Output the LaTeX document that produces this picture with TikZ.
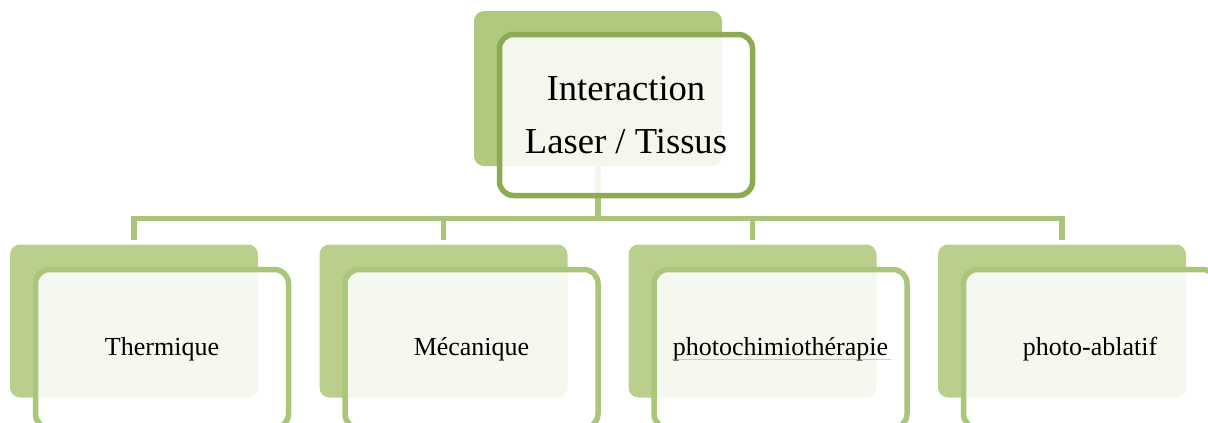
\documentclass[tikz,border=0pt]{standalone}
\usepackage{fontspec}
\setmainfont{Liberation Serif}
\usetikzlibrary{calc}

\definecolor{backgreen}{HTML}{B9CF8B}
\definecolor{topback}{HTML}{B0C97E}
\definecolor{topline}{HTML}{8DAB52}
\definecolor{childline}{HTML}{AAC67B}
\definecolor{connline}{HTML}{A9C57A}
\definecolor{cardfill}{HTML}{FFFFFF}
\definecolor{spellred}{RGB}{240,110,110}

\tikzset{
  backcard/.style={rectangle, rounded corners=10pt, fill=backgreen, draw=none,
    minimum width=248pt, minimum height=153pt, inner sep=0pt},
  topbackcard/.style={backcard, fill=topback, minimum height=155pt},
  frontcard/.style={rectangle, rounded corners=14pt, fill=cardfill, fill opacity=0.86,
    text opacity=1, draw=childline, draw opacity=1, line width=5.5pt,
    minimum width=253pt, minimum height=158.5pt, inner sep=0pt, align=center,
    font=\fontsize{26}{30}\selectfont},
  topcard/.style={frontcard, draw=topline, minimum height=161pt,
    font=\fontsize{36.6}{53}\selectfont},
  conn/.style={draw=connline, line width=5.5pt},
  spellmark/.style={draw=spellred, line width=1pt, draw opacity=0.45},
}

\begin{document}
\begin{tikzpicture}[x=1pt, y=-1pt]
  \useasboundingbox (0,0) rectangle (1208,423);
  \clip (0,0) rectangle (1208,423);

  % root card
  \node[topbackcard] (topbg) at (598,88.5) {};

  % connectors from the root down to the four children
  \coordinate (bar) at (598,218.5);
  \foreach \i/\cx in {1/134, 2/443.5, 3/752.5, 4/1062} {
    \node[backcard] (c\i bg) at (\cx,321) {};
  }
  \draw[conn] (topbg.south) -- (bar);
  \draw[conn, line cap=rect] (c1bg.north |- bar) -- (c4bg.north |- bar);
  \foreach \i in {1,...,4} {
    \draw[conn] (c\i bg.north |- bar) -- ([yshift=4pt]c\i bg.north);
  }

  \node[topcard] (top) at (626,115) {Interaction\\Laser / Tissus};

  % child cards
  \node[frontcard] (c1) at (162,348.75) {Thermique};
  \node[frontcard] (c2) at (471.5,348.75) {Mécanique};
  \node[frontcard] (c3) at (780.5,348.75) {photochimiothérapie};
  \node[frontcard] (c4) at (1090,348.75) {photo-ablatif};

  % spelling mark under the third label
  \coordinate (ulA) at ($(c3.center)+(-109,10.8)$);
  \coordinate (ulB) at ($(c3.center)+(110,10.8)$);
  \draw[spellmark] (ulA) -- (ulB);
\end{tikzpicture}
\end{document}
